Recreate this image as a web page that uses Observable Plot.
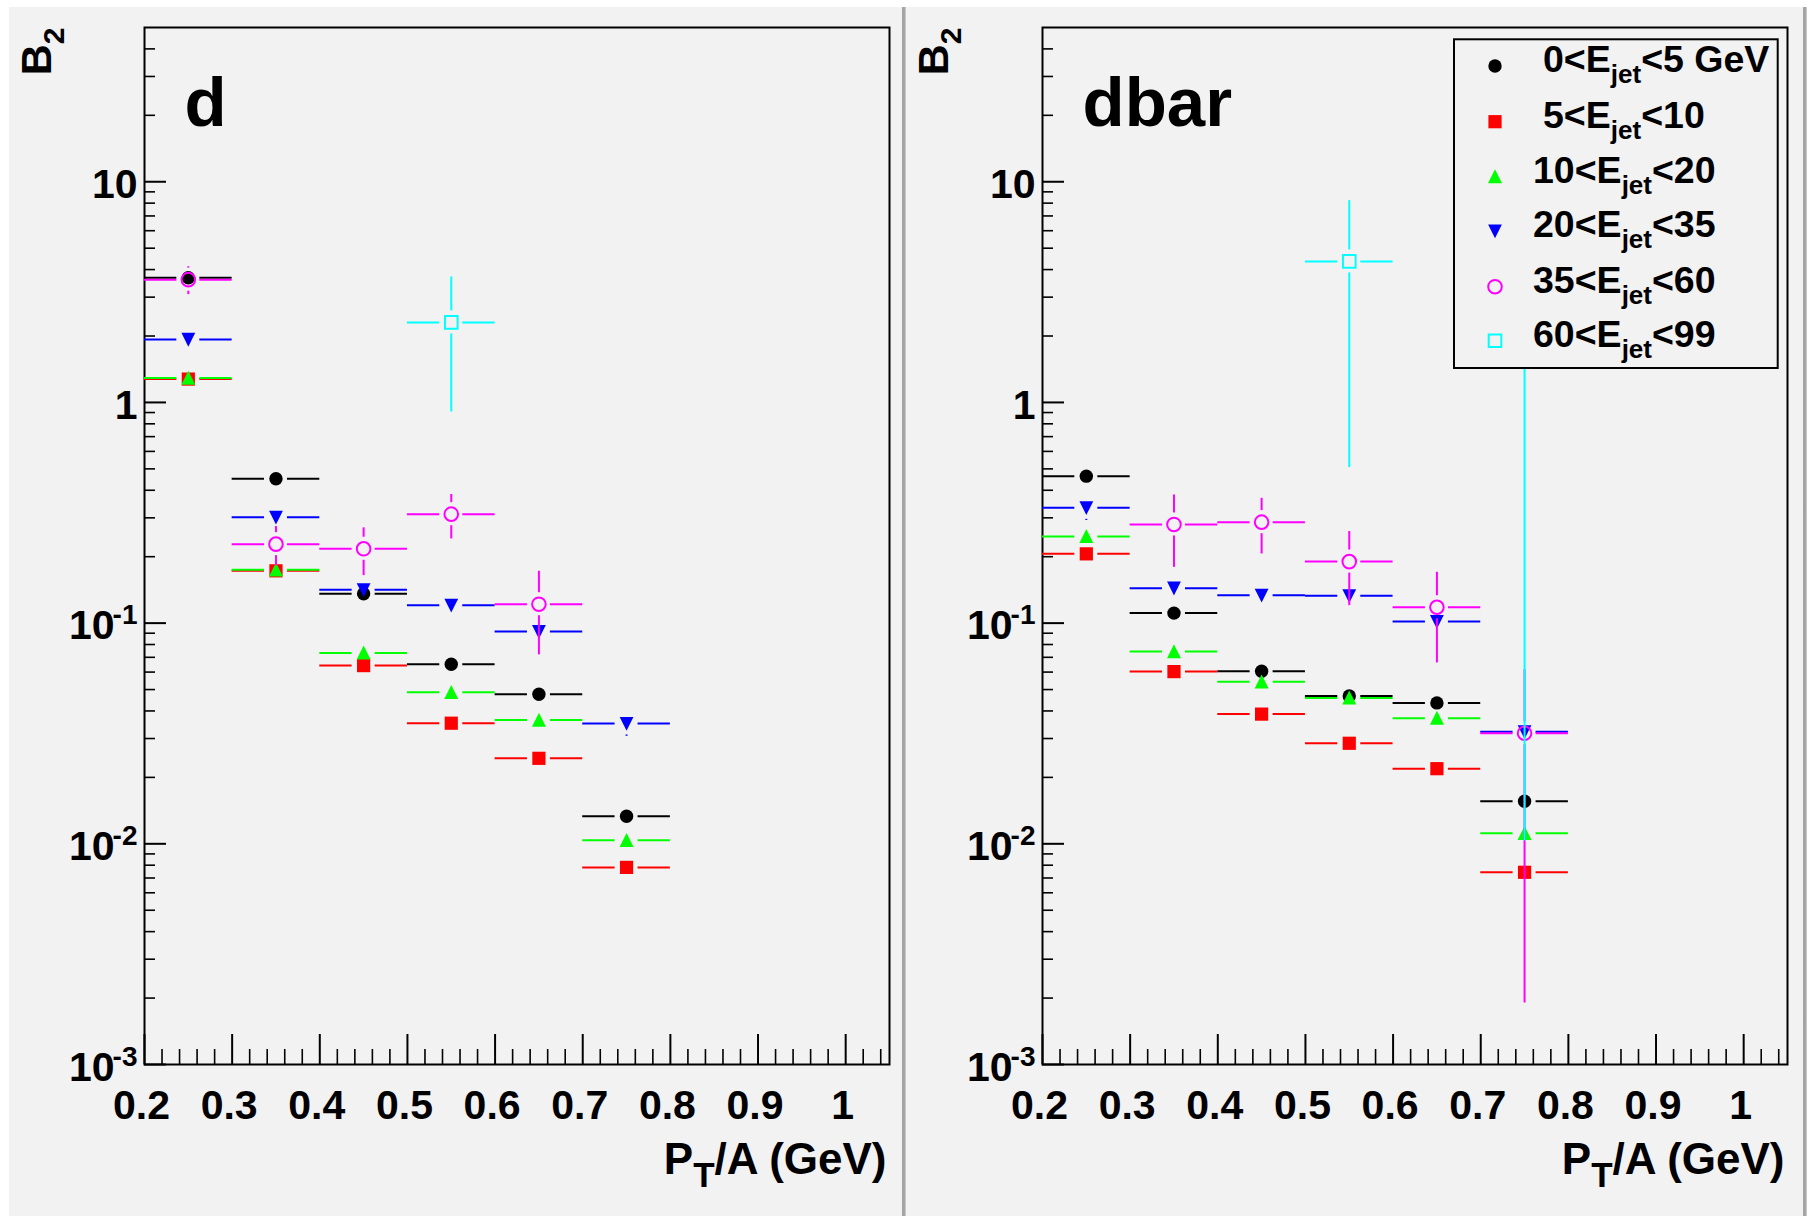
<!DOCTYPE html>
<html><head><meta charset="utf-8">
<script src="https://cdn.jsdelivr.net/npm/d3@7"></script>
<script src="https://cdn.jsdelivr.net/npm/@observablehq/plot@0.6"></script>
<style>
html,body{margin:0;padding:0;background:#fff;}
#page{position:relative;width:1811px;height:1216px;overflow:hidden;background:#fff;font-family:"Liberation Sans",Arial,Helvetica,sans-serif;}
.panel{position:absolute;top:7px;height:1209px;background:#f2f2f2;}
#pL{left:9px;width:893px;}
#pR{left:906px;width:897px;}
.sep{position:absolute;top:7px;width:4px;height:1209px;background:linear-gradient(to right,#a4a4a4,#a4a4a4 60%,#d6d6d6);}
#legend{position:absolute;left:1452px;top:37px;}
</style></head>
<body><div id="page">
<div class="panel" id="pL"></div>
<div class="sep" style="left:902px"></div>
<div class="panel" id="pR"></div>
<div class="sep" style="left:1803px"></div>
</div>
<script>
// ---------------- data ----------------
const bins = [0.25, 0.35, 0.45, 0.55, 0.65, 0.75];   // P_T/A bin centres
const binHalf = 0.05;                                 // half bin width (x error)
const seriesKeys = ["e0_5", "e5_10", "e10_20", "e20_35", "e35_60", "e60_99"];
const seriesLabels = ["0<E_{jet}<5 GeV", "5<E_{jet}<10", "10<E_{jet}<20", "20<E_{jet}<35", "35<E_{jet}<60", "60<E_{jet}<99"];
const seriesColors = ["#000000", "#ff0000", "#00ff00", "#0000ff", "#ff00ff", "#00ffff"];

// panel "d"
const d_e0_5   = [3.675, 0.451, 0.1358, 0.0651, 0.0476, 0.01333];
const d_e5_10  = [1.276, 0.1726, 0.0642, 0.0352, 0.0244, 0.00782];
const d_e10_20 = [1.29, 0.1744, 0.0733, 0.0486, 0.0364, 0.01037];
const d_e20_35 = [1.93, 0.302, 0.1415, 0.1205, 0.0916, 0.0351];
const d_e35_60 = [3.60, 0.228, 0.2172, 0.3117, 0.1218, null];
const d_e60_99 = [null, null, null, 2.305, null, null];
// panel "d" vertical errors (symmetric)
const dErr_e20_35 = [null, null, null, null, null, 0.0044];
const dErr_e35_60 = [0.52, 0.046, 0.053, 0.071, 0.05, null];
const dErr_e60_99 = [null, null, null, 1.40, null, null];

// panel "dbar"
const db_e0_5   = [0.4634, 0.111, 0.0605, 0.0468, 0.0435, 0.01559];
const db_e5_10  = [0.206, 0.0603, 0.0387, 0.02855, 0.0219, 0.00743];
const db_e10_20 = [0.247, 0.0743, 0.0542, 0.0458, 0.0371, 0.01116];
const db_e20_35 = [0.333, 0.144, 0.1338, 0.1330, 0.1017, 0.0322];
const db_e35_60 = [null, 0.280, 0.2868, 0.190, 0.118, 0.0317];
const db_e60_99 = [null, null, null, 4.357, null, 3.0];
const dbErr_e20_35 = [0.041, null, null, null, null, null];
const dbErr_e35_60 = [null, 0.101, 0.081, 0.070, 0.052, 0.0298];
const dbErr_e60_99 = [null, null, null, 3.85, null, 2.9897];

// axes
const xDomain = [0.2, 1.05];
const yDomain = [0.001, 50];
const xMajor = [0.2, 0.3, 0.4, 0.5, 0.6, 0.7, 0.8, 0.9, 1.0];
const yMajor = [0.001, 0.01, 0.1, 1, 10];
const yMinorMult = [2, 3, 4, 5, 6, 7, 8, 9];

// ---------------- helpers ----------------
const NS = "http://www.w3.org/2000/svg";
const xMinor = d3.range(0, 43).map(i => 0.2 + i * 0.02).filter((v, i) => i % 5 !== 0 && v <= 1.05);
const yMinor = [];
for (const dec of [0.001, 0.01, 0.1, 1, 10]) for (const m of yMinorMult) { const v = dec * m; if (v < yDomain[1]) yMinor.push(v); }

const symCircle = {draw(c, s) { const r = Math.sqrt(s / Math.PI); c.moveTo(r, 0); c.arc(0, 0, r, 0, 2 * Math.PI); c.closePath(); }};
const symSquare = {draw(c, s) { const r = Math.sqrt(s / Math.PI); c.moveTo(-r, -r); c.lineTo(r, -r); c.lineTo(r, r); c.lineTo(-r, r); c.closePath(); }};
const symTriUp = {draw(c, s) { const r = Math.sqrt(s / Math.PI); c.moveTo(0, -r * 1.05); c.lineTo(r, r * 0.95); c.lineTo(-r, r * 0.95); c.closePath(); }};
const symTriDown = {draw(c, s) { const r = Math.sqrt(s / Math.PI); c.moveTo(-r, -r * 0.95); c.lineTo(r, -r * 0.95); c.lineTo(0, r * 1.05); c.closePath(); }};
const seriesStyle = [
  {symbol: symCircle, r: 6.7, fill: seriesColors[0]},
  {symbol: symSquare, r: 6.6, fill: seriesColors[1]},
  {symbol: symTriUp, r: 7.0, fill: seriesColors[2]},
  {symbol: symTriDown, r: 6.9, fill: seriesColors[3]},
  {symbol: symCircle, r: 6.8, fill: "none", stroke: seriesColors[4], strokeWidth: 2},
  {symbol: symSquare, r: 6.3, fill: "none", stroke: seriesColors[5], strokeWidth: 2}
];

function rich(el, parts) {
  el.textContent = "";
  let cur = 0;
  for (const p of parts) {
    const t = document.createElementNS(NS, "tspan");
    if (p.size) t.setAttribute("font-size", p.size);
    const sh = p.shift || 0;
    if (sh - cur !== 0) t.setAttribute("dy", sh - cur);
    if (p.dx) t.setAttribute("dx", p.dx);
    cur = sh;
    t.textContent = p.t;
    el.appendChild(t);
  }
}
function findTextByContent(svg, content) {
  return Array.from(svg.querySelectorAll("text")).find(t => t.textContent === content) || null;
}

const gap = 11.5;

function makePanel(cfg) {
  const {width, mL, mR, tag, values, errs} = cfg;
  const H = 1209, mT = 20, mB = 152;
  const fw = width - mL - mR, fh = H - mT - mB;
  const ys = Plot.scale({y: {type: "log", domain: yDomain, range: [H - mB, mT]}});
  const marks = [
    Plot.tickY(yMinor, {y: d => d, stroke: "black", strokeWidth: 1.6, insetRight: fw - 11}),
    Plot.tickY(yMajor, {y: d => d, stroke: "black", strokeWidth: 2, insetRight: fw - 22}),
    Plot.tickX(xMinor, {x: d => d, stroke: "black", strokeWidth: 1.6, insetTop: fh - 15}),
    Plot.tickX(xMajor, {x: d => d, stroke: "black", strokeWidth: 2, insetTop: fh - 30}),
    Plot.frame({stroke: "black", strokeWidth: 2}),
    Plot.axisY({ticks: yMajor, anchor: "left", tickSize: 0, tickPadding: 7, fontSize: 41, dy: 3, label: null,
      tickFormat: d => d >= 1 ? String(d) : "10^" + Math.round(Math.log10(d))}),
    Plot.axisX({ticks: xMajor, anchor: "bottom", tickSize: 0, tickPadding: 25, fontSize: 41, dx: -3, label: null,
      tickFormat: d => String(+d.toFixed(1))}),
    Plot.text([tag], {text: d => d, frameAnchor: "top-left", textAnchor: "start", lineAnchor: "bottom", fontSize: 69, dx: 40, dy: 98}),
    Plot.text(["B_2"], {text: d => d, frameAnchor: "top-left", textAnchor: "end", lineAnchor: "bottom", rotate: -90, fontSize: 43, dx: cfg.b2dx, dy: 0}),
    Plot.text(["P_T/A (GeV)"], {text: d => d, frameAnchor: "bottom-right", textAnchor: "end", lineAnchor: "bottom", fontSize: 44, dx: -3, dy: 109.5})
  ];
  seriesKeys.forEach((k, si) => {
    const R = [];
    values[k].forEach((v, bi) => {
      if (v == null) return;
      const e = errs[k] ? errs[k][bi] : null;
      R.push({x: bins[bi], v, e});
    });
    const c = seriesColors[si];
    const up = R.filter(r => r.e != null && ys.apply(r.v) - ys.apply(r.v + r.e) > gap + 0.5);
    const dn = R.filter(r => r.e != null && r.v - r.e > 0 && ys.apply(r.v - r.e) - ys.apply(r.v) > gap + 0.5);
    marks.push(
      Plot.ruleY(R, {x1: r => r.x - binHalf, x2: r => r.x, y: "v", stroke: c, strokeWidth: 2, insetRight: gap}),
      Plot.ruleY(R, {x1: r => r.x, x2: r => r.x + binHalf, y: "v", stroke: c, strokeWidth: 2, insetLeft: gap}),
      Plot.ruleX(up, {x: "x", y1: r => r.v + r.e, y2: "v", stroke: c, strokeWidth: 2, insetBottom: gap}),
      Plot.ruleX(dn, {x: "x", y1: "v", y2: r => r.v - r.e, stroke: c, strokeWidth: 2, insetTop: gap}),
      Plot.dot(R, {x: "x", y: "v", ...seriesStyle[si]})
    );
  });
  const svg = Plot.plot({
    width, height: H, marginLeft: mL, marginRight: mR, marginTop: mT, marginBottom: mB,
    x: {domain: xDomain}, y: {type: "log", domain: yDomain},
    style: {background: "transparent", color: "black", fontFamily: '"Liberation Sans", Arial, Helvetica, sans-serif', fontWeight: "bold", overflow: "visible"},
    marks
  });
  // superscripts on y tick labels
  svg.querySelectorAll("text").forEach(t => {
    const s = t.textContent;
    if (/^10\^-?\d+$/.test(s)) {
      const [b, ex] = s.split("^");
      rich(t, [{t: b}, {t: ex, size: 28, shift: -15, dx: -2}]);
    }
  });
  const yt = findTextByContent(svg, "B_2");
  if (yt) rich(yt, [{t: "B"}, {t: "2", size: 30, shift: 13}]);
  const xt = findTextByContent(svg, "P_T/A (GeV)");
  if (xt) rich(xt, [{t: "P"}, {t: "T", size: 35, shift: 13.4}, {t: "/A (GeV)", size: 44, shift: 0}]);
  return svg;
}

const dValues = {e0_5: d_e0_5, e5_10: d_e5_10, e10_20: d_e10_20, e20_35: d_e20_35, e35_60: d_e35_60, e60_99: d_e60_99};
const dErrs = {e20_35: dErr_e20_35, e35_60: dErr_e35_60, e60_99: dErr_e60_99};
const dbValues = {e0_5: db_e0_5, e5_10: db_e5_10, e10_20: db_e10_20, e20_35: db_e20_35, e35_60: db_e35_60, e60_99: db_e60_99};
const dbErrs = {e20_35: dbErr_e20_35, e35_60: dbErr_e35_60, e60_99: dbErr_e60_99};

document.getElementById("pL").appendChild(makePanel({width: 893, mL: 135, mR: 13, tag: "d", values: dValues, errs: dErrs, b2dx: -94}));
document.getElementById("pR").appendChild(makePanel({width: 897, mL: 136, mR: 16, tag: "dbar", values: dbValues, errs: dbErrs, b2dx: -95}));

// ---------------- legend ----------------
(function () {
  const W = 328, H = 334;
  const svg = d3.create("svg").attr("id", "legend").attr("width", W).attr("height", H)
    .style("font-family", '"Liberation Sans", Arial, Helvetica, sans-serif').style("font-weight", "bold");
  svg.append("rect").attr("x", 2).attr("y", 2.3).attr("width", 323.7).attr("height", 328.7)
    .attr("fill", "#f2f2f2").attr("stroke", "black").attr("stroke-width", 2);
  const rowY = [29, 84.7, 139.7, 194, 249.7, 303.7];
  seriesLabels.forEach((lab, i) => {
    const st = seriesStyle[i];
    const size = Math.PI * st.r * st.r;
    svg.append("path").attr("transform", `translate(43,${rowY[i]})`)
      .attr("d", d3.symbol(st.symbol, size)())
      .attr("fill", st.fill).attr("stroke", st.stroke || "none").attr("stroke-width", st.strokeWidth || 0);
    const m = lab.match(/^(.*)_\{(.*)\}(.*)$/);
    const t = svg.append("text").attr("x", i < 2 ? 91 : 81).attr("y", rowY[i] + 6).attr("font-size", 37.5).attr("fill", "black");
    rich(t.node(), [{t: m[1]}, {t: m[2], size: 26, shift: 11}, {t: m[3], size: 37.5, shift: 0}]);
  });
  document.getElementById("page").appendChild(svg.node());
})();
</script>
</body></html>
